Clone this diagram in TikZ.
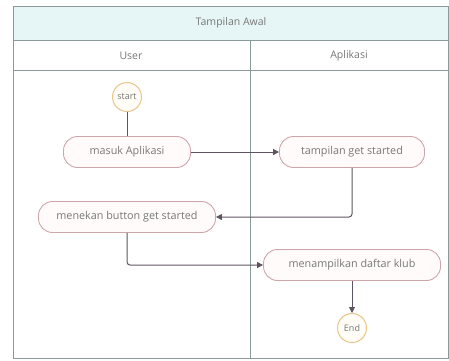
\documentclass[tikz,border=0pt]{standalone}
\usepackage{fontspec}
\setmainfont{Open Sans}
\usetikzlibrary{arrows.meta}
\definecolor{framec}{HTML}{8A9A9A}
\definecolor{titlefill}{HTML}{E6F6F6}
\definecolor{nodec}{HTML}{CDA5AB}
\definecolor{nodefill}{HTML}{FFFBFB}
\definecolor{startc}{HTML}{EBC48A}
\definecolor{startfill}{HTML}{FFFDF5}
\definecolor{linec}{HTML}{5E5460}
\definecolor{textc}{HTML}{777777}
\tikzset{
  act/.style={draw=nodec, fill=nodefill, rounded corners=14pt, line width=0.9pt,
    minimum height=31pt, text=textc, font=\fontsize{10.8}{12}\selectfont, inner sep=0pt},
  term/.style={circle, draw=startc, fill=startfill, line width=1pt, minimum size=29pt,
    text=textc, font=\fontsize{9}{11}\selectfont, inner sep=0pt},
  conn/.style={draw=linec, line width=1pt, rounded corners=3pt},
  arr/.style={conn, -{Triangle[length=6pt,width=6pt]}},
  lane/.style={draw=framec, line width=1pt},
  hdr/.style={text=textc, font=\fontsize{10.5}{12}\selectfont}
}
\begin{document}
\begin{tikzpicture}[x=1pt,y=-1pt]
\useasboundingbox (0,0) rectangle (449,360);
% title band
\fill[titlefill] (13,6) rectangle (448,40);
\node[hdr] (title) at (231,23) {Tampilan Awal};
\node[hdr] (huser) at (131,56) {User};
\node[hdr] (happ) at (349,56) {Aplikasi};
\draw[lane] (13,6) rectangle (448,358);
\draw[lane] (13,40) -- (448,40);
\draw[lane] (13,70) -- (448,70);
\draw[lane] (250,40) -- (250,358);
% nodes
\node[term] (start) at (127,97) {start};
\node[act, minimum width=127pt] (masuk) at (127,152) {masuk Aplikasi};
\node[act, minimum width=145pt] (tampil) at (352,152) {tampilan get started};
\node[act, minimum width=177pt] (tekan) at (127,217) {menekan button get started};
\node[act, minimum width=177pt] (klub) at (352,265) {menampilkan daftar klub};
\node[term] (end) at (352,328) {End};
% connectors
\draw[conn] (start) -- (masuk);
\draw[arr] (masuk) -- (tampil);
\draw[arr] (tampil.south) |- (tekan.east);
\draw[arr] (tekan.south) |- (klub.west);
\draw[arr] (klub) -- (end);
\end{tikzpicture}
\end{document}
